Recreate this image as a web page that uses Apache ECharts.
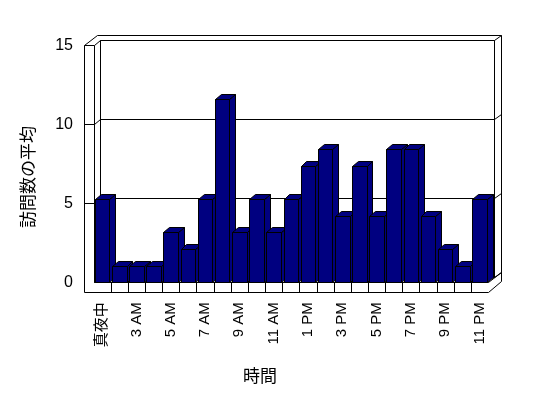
<!DOCTYPE html>
<html>
<head>
<meta charset="utf-8">
<script src="https://cdn.jsdelivr.net/npm/echarts@6/dist/echarts.min.js"></script>
<style>
    html, body { margin: 0; padding: 0; background: #fff; }
    #main { width: 548px; height: 398px; }
</style>
</head>
<body>
<div id="main"></div>
<script>
// 時間帯（1 AM は無し）
var hours = ['真夜中', '2 AM', '3 AM', '4 AM', '5 AM', '6 AM', '7 AM', '8 AM', '9 AM', '10 AM', '11 AM', '正午',
    '1 PM', '2 PM', '3 PM', '4 PM', '5 PM', '6 PM', '7 PM', '8 PM', '9 PM', '10 PM', '11 PM'];
// 訪問数の平均
var visits = [5.26, 1.05, 1.05, 1.05, 3.16, 2.11, 5.26, 11.58, 3.16, 5.26, 3.16, 5.26,
    7.37, 8.42, 4.21, 7.37, 4.21, 8.42, 8.42, 4.21, 2.11, 1.05, 5.26];
var yTicks = [0, 5, 10, 15];

var chart = echarts.init(document.getElementById('main'), null, {renderer: 'canvas'});

var D = [6.4, -5.2]     // 奥行き
    , W = [13.1, -10.7] // 壁の外側
    , wallW = 9.6
    , floorH = 9.2
    , barD = [5.8, -5];

function px(v) { return Math.round(v) + 0.5; }
function P(x, y) { return [px(x), px(y)]; }

//壁と床
function renderFrame(params, api) {
    var band = api.size([1, 0])[0];
    var xL = api.coord([0, 0])[0] - band / 2;
    var xR = api.coord([hours.length - 1, 0])[0] + band / 2;
    var y0 = api.coord([0, 0])[1];
    var yT = api.coord([0, yTicks[yTicks.length - 1]])[1];
    var xO = xL - wallW, yB = y0 + floorH;
    var fillS = {fill: '#fff', stroke: '#000', lineWidth: 1};
    var lineS = {fill: null, stroke: '#000', lineWidth: 1};
    var kids = [];

    kids.push({type: 'polygon', shape: {points: [P(xO, yT), P(xO + W[0], yT + W[1]), P(xR + W[0], yT + W[1]),
        P(xR + W[0], yB + W[1]), P(xR, yB), P(xO, yB)]}, style: fillS});
    // 奥の壁
    kids.push({type: 'polygon', shape: {points: [P(xL + D[0], yT + D[1]), P(xR + D[0], yT + D[1]),
        P(xR + D[0], y0 + D[1]), P(xL + D[0], y0 + D[1])]}, style: lineS});
    // 左の壁
    kids.push({type: 'polyline', shape: {points: [P(xL, yT), P(xL, y0), P(xR, y0)]}, style: lineS});
    kids.push({type: 'polyline', shape: {points: [P(xL, y0), P(xL + D[0], y0 + D[1])]}, style: lineS});
    kids.push({type: 'polyline', shape: {points: [P(xR, y0), P(xR + W[0], y0 + W[1])]}, style: lineS});

    // 目盛線
    yTicks.forEach(function (v) {
        var y = api.coord([0, v])[1];
        var pts = [];
        if (v > 0) pts.push(P(xO, y));
        pts.push(P(xL, y), P(xL + D[0], y + D[1]), P(xR + D[0], y + D[1]), P(xR + W[0], y + W[1]));
        kids.push({type: 'polyline', shape: {points: pts}, style: lineS});
    });

    // 床の区切り
    for (var k = 1; k < hours.length; k++) {
        var x = xL + k * band;
        kids.push({type: 'polyline', shape: {points: [P(x, y0), P(x, yB)]}, style: lineS});
    }
    return {type: 'group', children: kids};
}

//立体の棒
function renderBar(params, api) {
    var idx = api.value(0), v = api.value(1);
    var top = api.coord([idx, v]), base = api.coord([idx, 0]);
    var bw = api.size([1, 0])[0] * 0.85;
    var x1 = top[0] - bw / 2, x2 = top[0] + bw / 2, yt = top[1], yb = base[1];
    var s = {fill: '#000080', stroke: '#000', lineWidth: 1};
    return {
        type: 'group', children: [
            {type: 'polygon', shape: {points: [P(x2, yt), P(x2, yb), P(x2 + barD[0], yb + barD[1]), P(x2 + barD[0], yt + barD[1])]}, style: s},
            {type: 'polygon', shape: {points: [P(x1, yt), P(x2, yt), P(x2 + barD[0], yt + barD[1]), P(x1 + barD[0], yt + barD[1])]}, style: s},
            {type: 'polygon', shape: {points: [P(x1, yt), P(x2, yt), P(x2, yb), P(x1, yb)]}, style: s}
        ]
    };
}

var option = {
    backgroundColor: '#fff',
    animation: false,
    grid: {left: 93.6, right: 60, top: 45.3, bottom: 115.7},
    xAxis: {
        type: 'category',
        data: hours,
        axisLine: {show: false},
        axisTick: {show: false},
        splitLine: {show: false},
        axisLabel: {
            rotate: 90, interval: 1, margin: 20,
            color: '#000', fontSize: 15,
            fontFamily: 'Liberation Sans, Arial, Noto Sans CJK JP'
        }
    },
    yAxis: {
        type: 'value',
        min: 0, max: 15, interval: 5,
        offset: 9.6,
        axisLine: {show: false},
        axisTick: {show: false},
        splitLine: {show: false},
        axisLabel: {margin: 11, color: '#000', fontSize: 16, fontFamily: 'Liberation Sans, Arial'}
    },
    graphic: [
        {
            type: 'text', x: 28, y: 177, rotation: Math.PI / 2,
            style: {text: '訪問数の平均', fill: '#000', font: '17px "Noto Sans CJK JP"', align: 'center', verticalAlign: 'middle'}
        },
        {
            type: 'text', x: 260, y: 376,
            style: {text: '時間', fill: '#000', font: '17px "Noto Sans CJK JP"', align: 'center', verticalAlign: 'middle'}
        }
    ],
    series: [
        {
            type: 'custom',
            renderItem: renderFrame,
            data: [[0, 0]],
            silent: true,
            z: 1
        },
        {
            type: 'custom',
            renderItem: renderBar,
            data: visits.map(function (v, i) { return [i, v]; }),
            z: 2
        }
    ]
};

chart.setOption(option);
</script>
</body>
</html>
